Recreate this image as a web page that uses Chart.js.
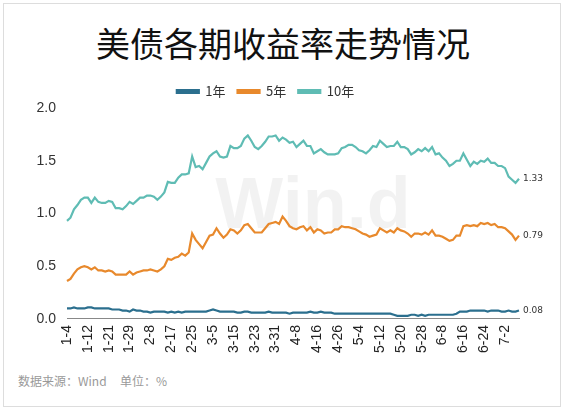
<!DOCTYPE html>
<html><head><meta charset="utf-8">
<script src="https://cdn.jsdelivr.net/npm/chart.js@4"></script>
<style>
body{margin:0;background:#fff;font-family:"Noto Sans CJK SC",sans-serif}
#box{position:absolute;left:3px;top:3px;width:558px;height:404px;border:1px solid #ddd;box-sizing:border-box}
#title{position:absolute;left:0;width:566px;top:18px;text-align:center;font-size:34px;color:#111}
#src{position:absolute;left:18px;top:372px;font-size:12px;color:#999}
#wrap{position:absolute;left:10px;top:73px;width:545px;height:286px}
</style></head><body>
<div id="box"></div>
<div id="title">美债各期收益率走势情况</div>
<div id="src">数据来源：Wind&nbsp;&nbsp;&nbsp;&nbsp;&nbsp;单位：%</div>
<div id="wrap"><canvas id="c"></canvas></div>
<script>
let dates = ["1-4","1-5","1-6","1-7","1-8","1-11","1-12","1-13","1-14","1-15","1-19","1-20","1-21","1-22","1-25","1-26","1-27","1-28","1-29","2-1","2-2","2-3","2-4","2-5","2-8","2-9","2-10","2-11","2-12","2-16","2-17","2-18","2-19","2-22","2-23","2-24","2-25","2-26","3-1","3-2","3-3","3-4","3-5","3-8","3-9","3-10","3-11","3-12","3-15","3-16","3-17","3-18","3-19","3-22","3-23","3-24","3-25","3-26","3-29","3-30","3-31","4-1","4-2","4-5","4-6","4-7","4-8","4-9","4-12","4-13","4-14","4-15","4-16","4-19","4-20","4-21","4-22","4-23","4-26","4-27","4-28","4-29","4-30","5-3","5-4","5-5","5-6","5-7","5-10","5-11","5-12","5-13","5-14","5-17","5-18","5-19","5-20","5-21","5-24","5-25","5-26","5-27","5-28","6-1","6-2","6-3","6-4","6-7","6-8","6-9","6-10","6-11","6-14","6-15","6-16","6-17","6-18","6-21","6-22","6-23","6-24","6-25","6-28","6-29","6-30","7-1","7-2","7-6","7-7","7-8","7-9"];
let y1 = [0.10,0.10,0.11,0.10,0.10,0.10,0.11,0.11,0.10,0.10,0.10,0.10,0.10,0.09,0.09,0.09,0.08,0.08,0.07,0.09,0.08,0.08,0.07,0.07,0.06,0.07,0.07,0.07,0.07,0.06,0.07,0.06,0.07,0.06,0.07,0.07,0.07,0.07,0.07,0.07,0.07,0.08,0.09,0.08,0.07,0.07,0.07,0.07,0.07,0.06,0.06,0.07,0.07,0.06,0.06,0.06,0.06,0.06,0.07,0.06,0.06,0.06,0.06,0.06,0.05,0.06,0.06,0.06,0.06,0.06,0.07,0.06,0.06,0.07,0.06,0.06,0.06,0.05,0.05,0.05,0.05,0.05,0.05,0.05,0.05,0.05,0.05,0.05,0.05,0.05,0.05,0.05,0.05,0.05,0.04,0.03,0.03,0.03,0.03,0.04,0.04,0.03,0.04,0.03,0.04,0.04,0.04,0.04,0.04,0.04,0.04,0.04,0.05,0.07,0.07,0.07,0.08,0.08,0.08,0.08,0.08,0.07,0.08,0.08,0.08,0.07,0.07,0.08,0.07,0.07,0.08];
let y5 = [0.36,0.38,0.43,0.47,0.49,0.50,0.49,0.47,0.49,0.46,0.46,0.45,0.46,0.45,0.42,0.42,0.42,0.42,0.45,0.42,0.44,0.45,0.46,0.46,0.47,0.46,0.45,0.47,0.50,0.57,0.56,0.58,0.59,0.62,0.60,0.63,0.81,0.75,0.71,0.67,0.73,0.79,0.80,0.86,0.81,0.77,0.80,0.85,0.84,0.81,0.84,0.89,0.90,0.86,0.82,0.82,0.82,0.86,0.90,0.91,0.92,0.90,0.97,0.93,0.88,0.86,0.85,0.87,0.88,0.84,0.87,0.82,0.85,0.84,0.81,0.82,0.82,0.85,0.85,0.88,0.87,0.87,0.86,0.85,0.83,0.81,0.80,0.78,0.79,0.80,0.86,0.84,0.82,0.84,0.82,0.86,0.84,0.83,0.81,0.78,0.81,0.81,0.80,0.82,0.80,0.84,0.79,0.79,0.78,0.76,0.74,0.75,0.79,0.79,0.88,0.89,0.88,0.89,0.88,0.91,0.90,0.91,0.89,0.90,0.87,0.87,0.86,0.83,0.80,0.75,0.79];
let y10 = [0.93,0.96,1.04,1.08,1.13,1.15,1.15,1.10,1.15,1.11,1.10,1.10,1.12,1.11,1.05,1.05,1.04,1.07,1.11,1.09,1.12,1.15,1.15,1.17,1.17,1.16,1.13,1.16,1.20,1.30,1.29,1.29,1.34,1.37,1.37,1.38,1.54,1.44,1.45,1.42,1.48,1.54,1.57,1.59,1.54,1.53,1.54,1.64,1.62,1.62,1.64,1.71,1.74,1.69,1.63,1.61,1.64,1.68,1.73,1.73,1.74,1.69,1.72,1.70,1.67,1.68,1.63,1.66,1.69,1.64,1.64,1.57,1.59,1.61,1.58,1.56,1.56,1.56,1.57,1.62,1.63,1.65,1.65,1.63,1.60,1.59,1.57,1.60,1.64,1.63,1.69,1.66,1.63,1.64,1.64,1.68,1.63,1.63,1.61,1.56,1.58,1.61,1.59,1.62,1.59,1.63,1.56,1.57,1.53,1.50,1.45,1.47,1.50,1.50,1.57,1.51,1.45,1.49,1.47,1.50,1.49,1.52,1.48,1.48,1.45,1.45,1.43,1.35,1.32,1.29,1.33];
let seriesNames = ["1年","5年","10年"];
let seriesColors = ["#2b6f8e","#e8892c","#5fbcb4"];

const extras = {
  id: "extras",
  beforeDatasetsDraw(chart) {
    const {ctx, chartArea: a} = chart;
    ctx.save();
    ctx.font = "bold 72px Arial";
    ctx.fillStyle = "rgba(0,0,0,0.05)";
    ctx.textAlign = "center";
    ctx.textBaseline = "middle";
    ctx.fillText("Win.d", (a.left + a.right) / 2 + 20, a.top + 100);
    ctx.restore();
  },
  afterDraw(chart) {
    const {ctx} = chart;
    const xs = chart.scales.x, ys = chart.scales.y;
    ctx.save();
    ctx.font = "9px 'DejaVu Sans'";
    ctx.fillStyle = "#333";
    ctx.textBaseline = "middle";
    const last = dates.length - 1;
    [y1, y5, y10].forEach(s => {
      ctx.fillText(s[last].toFixed(2), xs.getPixelForValue(last) + 4, ys.getPixelForValue(s[last]));
    });
    ctx.restore();
  }
};

new Chart(document.getElementById("c"), {
  type: "line",
  data: {
    labels: dates,
    datasets: [y1, y5, y10].map((s, i) => ({
      label: seriesNames[i], data: s, borderColor: seriesColors[i], backgroundColor: seriesColors[i],
      borderWidth: 2.2, pointRadius: 0, tension: 0
    }))
  },
  options: {
    responsive: true, maintainAspectRatio: false, animation: false,
    layout: {padding: {right: 36, left: 2}},
    plugins: {
      tooltip: {enabled: false},
      legend: {
        labels: {boxWidth: 22, boxHeight: 3, color: "#333", font: {size: 13, family: "'Noto Sans CJK SC'"}, padding: 12}
      }
    },
    scales: {
      x: {
        grid: {display: false, drawTicks: false},
        border: {color: "#888"},
        ticks: {
          autoSkip: false, minRotation: 90, maxRotation: 90, padding: 6,
          color: "#222", font: {size: 14},
          callback: (v, i) => i % 6 === 0 ? dates[i] : ""
        }
      },
      y: {
        min: 0, max: 2, afterFit(s) { s.width = 55; },
        grid: {display: false},
        border: {display: false},
        ticks: {stepSize: 0.5, color: "#333", font: {size: 14}, callback: v => v.toFixed(1)}
      }
    }
  },
  plugins: [extras]
});
</script>
</body></html>
